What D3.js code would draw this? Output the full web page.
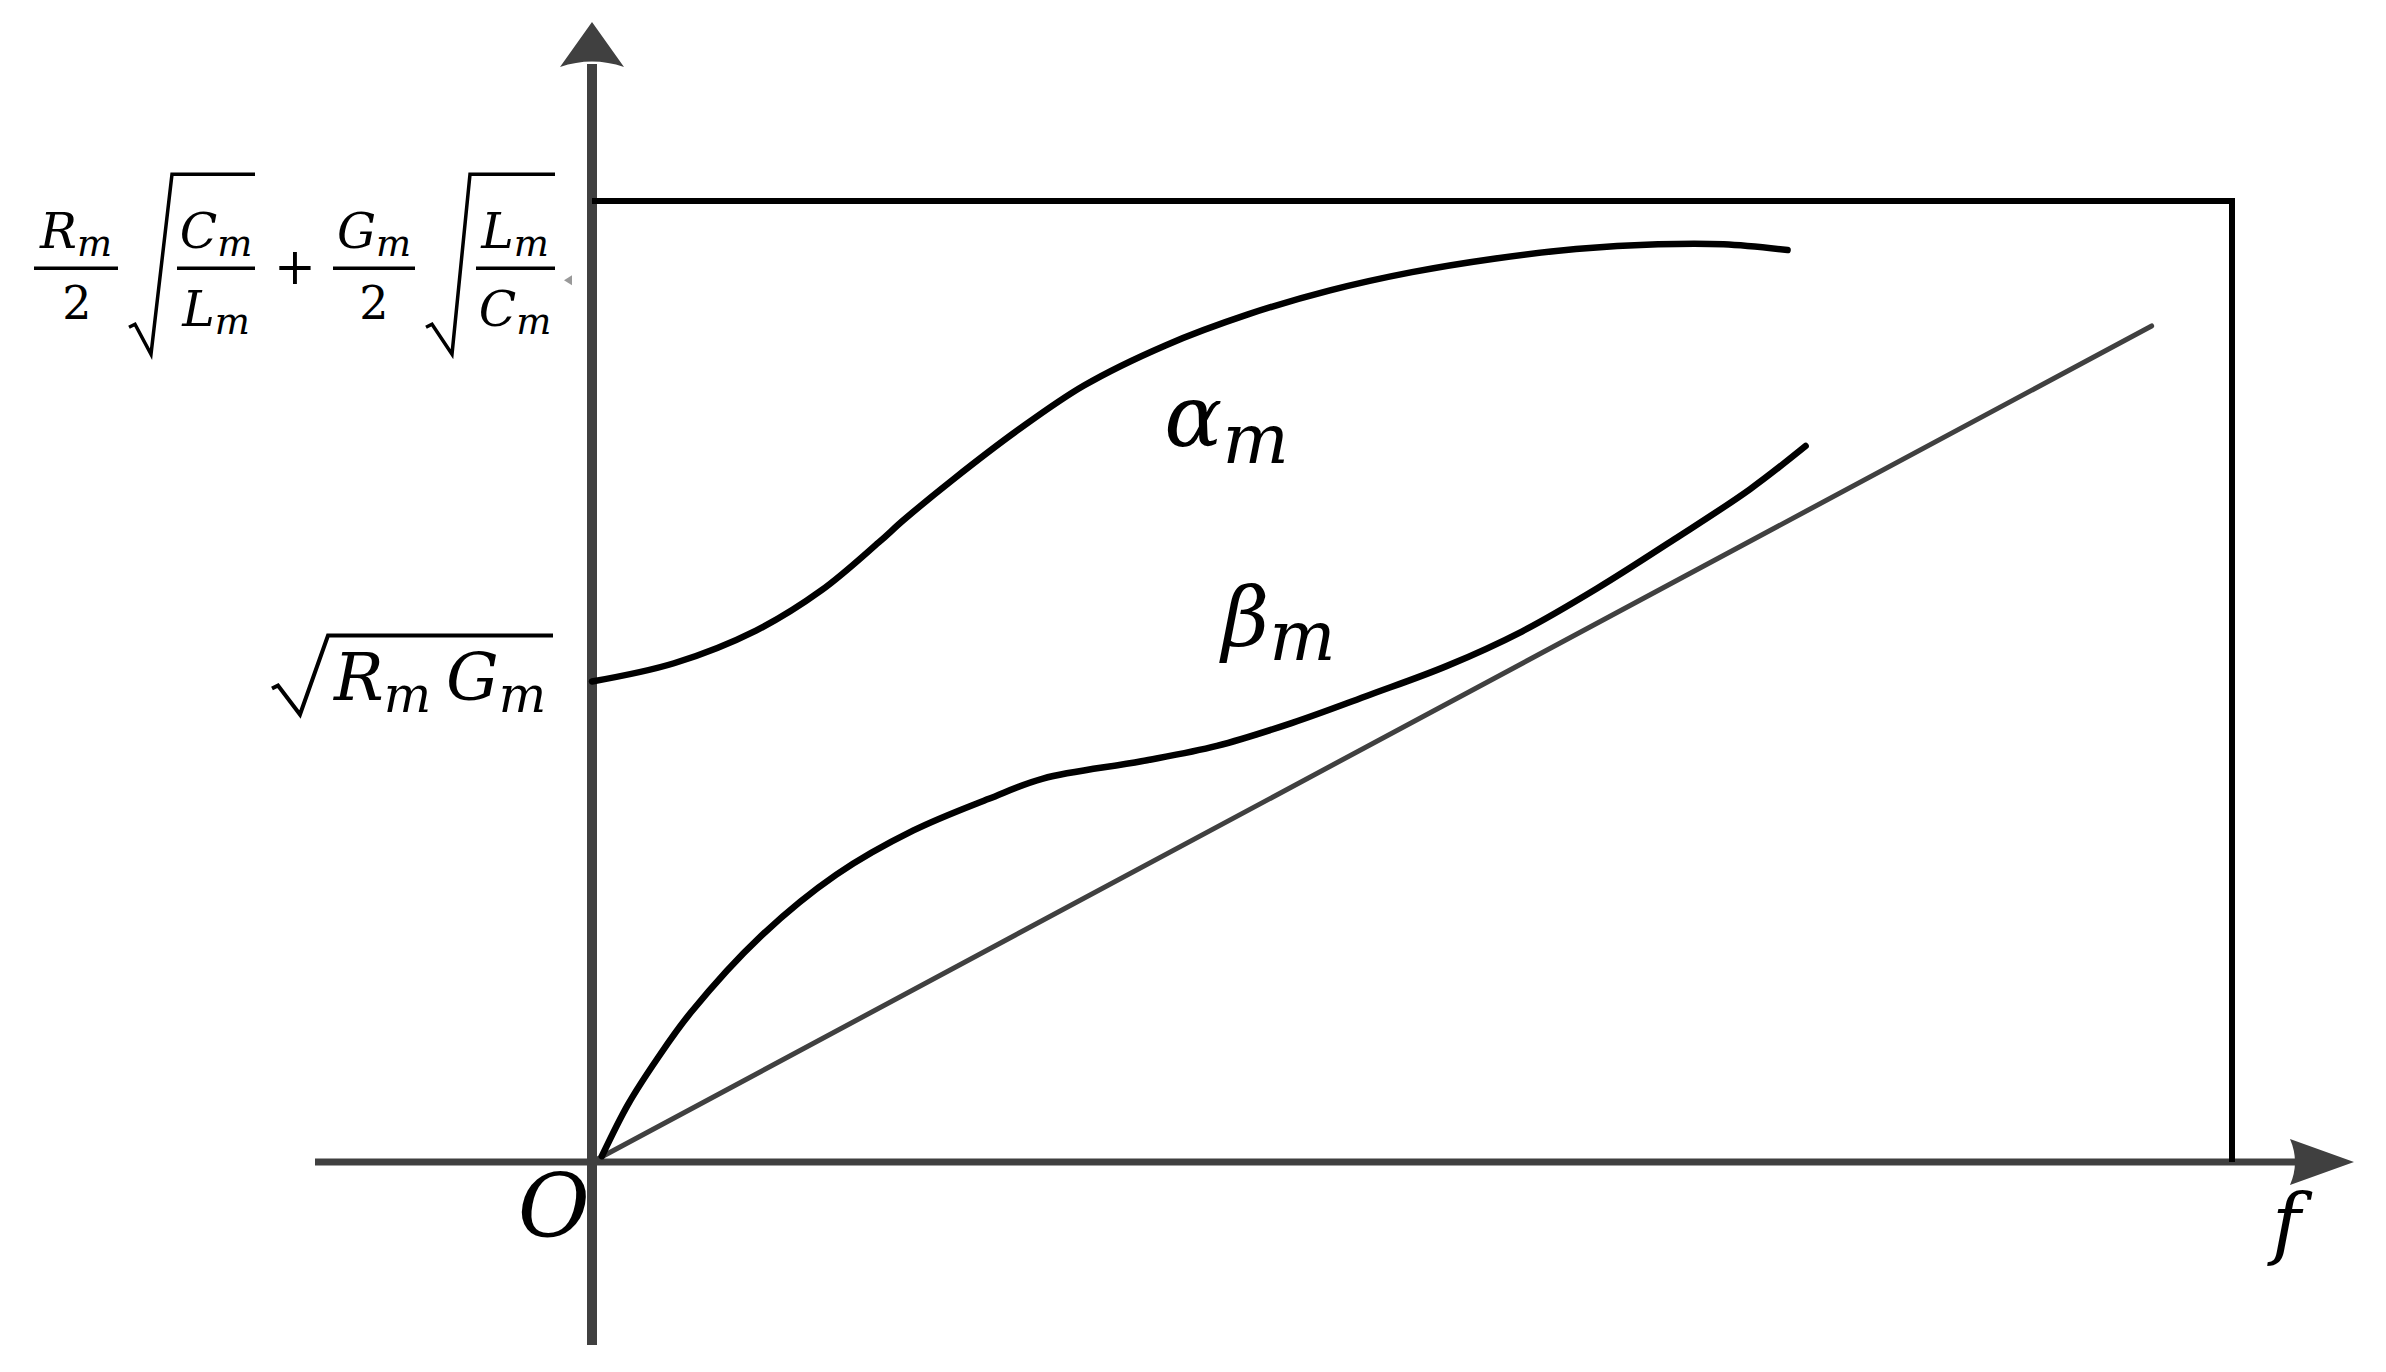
<!DOCTYPE html>
<html>
<head>
<meta charset="utf-8">
<script src="https://cdn.jsdelivr.net/npm/d3@7"></script>
<style>
  body { margin: 0; background: #fff; }
  svg { display: block; }
</style>
</head>
<body>
<svg id="chart"></svg>
<script>
// frequency (normalised) and values
const alphaF = [0, 0.05, 0.10, 0.14, 0.175, 0.19, 0.22, 0.26, 0.30, 0.35, 0.40, 0.45, 0.50, 0.55, 0.60, 0.65, 0.69, 0.729];
const alphaV = [0.500, 0.519, 0.553, 0.595, 0.645, 0.668, 0.710, 0.762, 0.808, 0.850, 0.882, 0.907, 0.926, 0.940, 0.950, 0.955, 0.955, 0.949];

const betaF = [0.006, 0.022, 0.040, 0.060, 0.103, 0.149, 0.196, 0.242, 0.275, 0.335, 0.381, 0.427, 0.474, 0.521, 0.567, 0.613, 0.660, 0.706, 0.740];
const betaV = [0.006, 0.060, 0.108, 0.155, 0.235, 0.299, 0.345, 0.378, 0.399, 0.417, 0.433, 0.457, 0.486, 0.516, 0.552, 0.597, 0.648, 0.700, 0.745];

// straight reference line through the origin
const lineF = [0, 0.951];
const lineV = [0, 0.870];

// y "ticks": sqrt(RmGm) at alpha(0), and the high-frequency limit
const yTickValues = [0.5, 0.93];

const width = 2386, height = 1372;
const axisColor = "#404040";
const mathFont = "DejaVu Serif";

const svg = d3.select("#chart").attr("width", width).attr("height", height);
svg.append("rect").attr("width", width).attr("height", height).attr("fill", "#fff");

const x = d3.scaleLinear().domain([0, 1]).range([592, 2232]);
const y = d3.scaleLinear().domain([0, 1]).range([1162, 201]);

// axes, drawn by hand with arrow heads
const x0 = x(0), y0 = y(0);
svg.append("line")
    .attr("x1", 315).attr("x2", 2296)
    .attr("y1", y0).attr("y2", y0)
    .attr("stroke", axisColor).attr("stroke-width", 7);
svg.append("line")
    .attr("x1", x0).attr("x2", x0)
    .attr("y1", 1345).attr("y2", 64)
    .attr("stroke", axisColor).attr("stroke-width", 10);

// arrow heads (concave back)
svg.append("path")
    .attr("d", `M2354,${y0} L2290,${y0 - 23} Q2300,${y0} 2290,${y0 + 23} Z`)
    .attr("fill", axisColor);
svg.append("path")
    .attr("d", `M${x0},22 L${x0 - 32},67 Q${x0},56 ${x0 + 32},67 Z`)
    .attr("fill", axisColor);

// box: top and right side
svg.append("path")
    .attr("d", `M${x(0)},${y(1)} L${x(1)},${y(1)} L${x(1)},${y(0)}`)
    .attr("fill", "none")
    .attr("stroke", "#000")
    .attr("stroke-width", 6);

const line = d3.line()
    .x(d => x(d[0]))
    .y(d => y(d[1]))
    .curve(d3.curveCatmullRom.alpha(0.5));

// straight line
svg.append("path")
    .datum(d3.zip(lineF, lineV))
    .attr("fill", "none")
    .attr("stroke", axisColor)
    .attr("stroke-width", 5)
    .attr("stroke-linecap", "round")
    .attr("d", d3.line().x(d => x(d[0])).y(d => y(d[1])));

// alpha and beta curves
[[alphaF, alphaV], [betaF, betaV]].forEach(([f, v]) => {
    svg.append("path")
        .datum(d3.zip(f, v))
        .attr("fill", "none")
        .attr("stroke", "#000")
        .attr("stroke-width", 6.5)
        .attr("stroke-linecap", "round")
        .attr("d", line);
});

// ---------- math text helpers ----------
function mvar(g, cx, base, letter, fs, subFs, subDy, anchor) {
    const t = g.append("text")
        .attr("x", cx).attr("y", base)
        .attr("text-anchor", anchor || "middle")
        .attr("font-family", mathFont)
        .attr("font-style", "italic")
        .attr("font-size", fs)
        .attr("fill", "#000");
    t.append("tspan").text(letter);
    t.append("tspan").attr("font-size", subFs).attr("dy", subDy).text("m");
    return t;
}

function bar(g, xa, xb, yy, sw) {
    g.append("line")
        .attr("x1", xa).attr("x2", xb)
        .attr("y1", yy).attr("y2", yy)
        .attr("stroke", "#000").attr("stroke-width", sw);
}

function radical(g, xh, yh, xb, yb, xt, yt, xe, sw) {
    g.append("path")
        .attr("d", `M${xh - 6},${yh + 3} L${xh},${yh} L${xb},${yb} L${xt},${yt} L${xe},${yt}`)
        .attr("fill", "none")
        .attr("stroke", "#000")
        .attr("stroke-width", sw)
        .attr("stroke-linejoin", "miter");
}

// ---------- y tick labels ----------
const tickG = svg.append("g");

// sqrt(Rm Gm)
{
    const yc = y(yTickValues[0]);
    radical(tickG, 278, yc + 4, 300, yc + 33, 328, yc - 46, 553, 4);
    mvar(tickG, 334, yc + 18, "R", 66, 50, 12, "start");
    mvar(tickG, 446, yc + 18, "G", 66, 50, 12, "start");
}

// Rm/2 sqrt(Cm/Lm) + Gm/2 sqrt(Lm/Cm)
{
    const yc = y(yTickValues[1]);
    const fs = 49, sfs = 37, sdy = 8;
    // first fraction
    bar(tickG, 34, 118, yc, 3.5);
    mvar(tickG, 76, yc - 20, "R", fs, sfs, sdy);
    tickG.append("text").attr("x", 77).attr("y", yc + 51)
        .attr("text-anchor", "middle").attr("font-family", mathFont)
        .attr("font-size", 46).text("2");
    // first radical
    radical(tickG, 135, yc + 56, 151, yc + 86, 172, yc - 94, 255, 3.5);
    bar(tickG, 177, 255, yc, 3.5);
    mvar(tickG, 216, yc - 20, "C", fs, sfs, sdy);
    mvar(tickG, 216, yc + 58, "L", fs, sfs, sdy);
    // plus
    tickG.append("text").attr("x", 295).attr("y", yc + 16)
        .attr("text-anchor", "middle").attr("font-family", mathFont)
        .attr("font-size", 50).text("+");
    // second fraction
    bar(tickG, 333, 415, yc, 3.5);
    mvar(tickG, 374, yc - 20, "G", fs, sfs, sdy);
    tickG.append("text").attr("x", 374).attr("y", yc + 51)
        .attr("text-anchor", "middle").attr("font-family", mathFont)
        .attr("font-size", 46).text("2");
    // second radical
    radical(tickG, 432, yc + 56, 452, yc + 86, 470, yc - 94, 555, 3.5);
    bar(tickG, 476, 555, yc, 3.5);
    mvar(tickG, 515, yc - 20, "L", fs, sfs, sdy);
    mvar(tickG, 515, yc + 58, "C", fs, sfs, sdy);
    // small grey mark after the formula
    tickG.append("path")
        .attr("d", `M564,${yc + 12} L572,${yc + 7} L572,${yc + 17} Z`)
        .attr("fill", "#999");
}

// ---------- curve labels, origin and axis name ----------
mvar(svg, x(0.349), y(0.745), "\u03b1", 86, 70, 17, "start");
mvar(svg, x(0.384), y(0.537), "\u03b2", 82, 70, 14, "start");

svg.append("text")
    .attr("x", 590).attr("y", 1237)
    .attr("text-anchor", "end")
    .attr("font-family", mathFont).attr("font-style", "italic")
    .attr("font-size", 88).text("O");

svg.append("text")
    .attr("x", 2272).attr("y", 1250)
    .attr("font-family", mathFont).attr("font-style", "italic")
    .attr("font-size", 78).text("f");
</script>
</body>
</html>
